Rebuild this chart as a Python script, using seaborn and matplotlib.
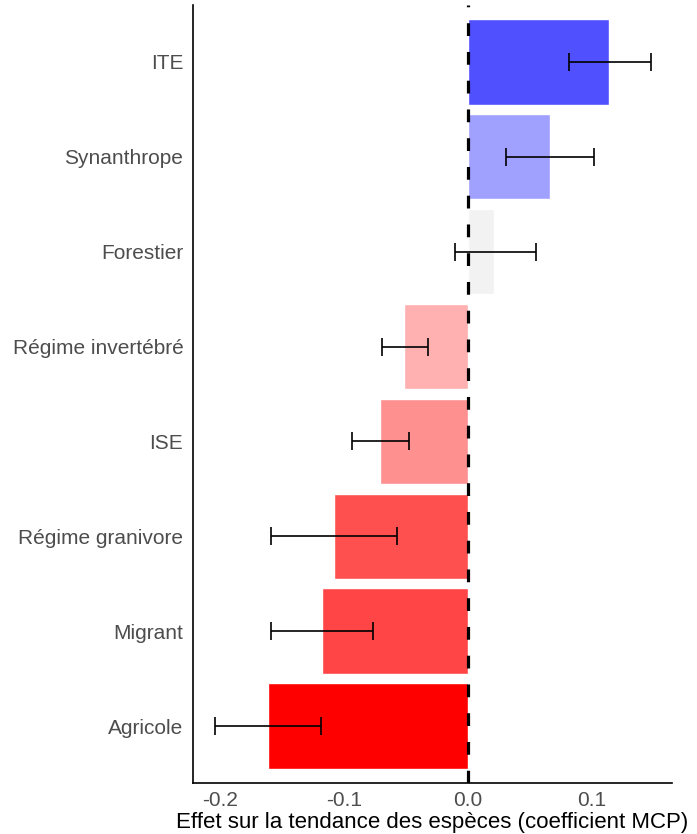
import matplotlib
matplotlib.use("Agg")
import matplotlib.pyplot as plt
import pandas as pd
import seaborn as sns

# Data
categories = ['ITE', 'Synanthrope', 'Forestier', 'Régime invertébré',
              'ISE', 'Régime granivore', 'Migrant', 'Agricole']
effect = [0.1137, 0.066, 0.021, -0.0516, -0.071, -0.108, -0.118, -0.161]
ci_low = [0.0815, 0.031, -0.0105, -0.069, -0.0935, -0.159, -0.159, -0.204]
ci_high = [0.1476, 0.1016, 0.0548, -0.032, -0.0476, -0.057, -0.0766, -0.1185]
colors = ['#5050FF', '#A0A0FF', '#F2F2F2', '#FFB0B0',
          '#FF9090', '#FF5050', '#FF4545', '#FF0000']
xticks = [-0.2, -0.1, 0.0, 0.1]

df = pd.DataFrame({'categorie': categories, 'effet': effect})

sns.set_theme(style='white')
plt.rcParams['font.family'] = ['Liberation Sans', 'DejaVu Sans']

fig = plt.figure(figsize=(6.97, 8.34), dpi=100)
ax = fig.add_axes([0.277, 0.0612, 0.687, 0.9328])

sns.barplot(data=df, x='effet', y='categorie', hue='categorie', palette=colors,
            legend=False, width=0.9, saturation=1, orient='h', ax=ax)

# dashed reference line at zero, drawn over the bars
ax.axvline(0, color='black', lw=2.3, ls=(0, (4, 5)), zorder=3)

# confidence intervals
pos = range(len(categories))
err_lo = [e - l for e, l in zip(effect, ci_low)]
err_hi = [h - e for e, h in zip(effect, ci_high)]
ax.errorbar(effect, list(pos), xerr=[err_lo, err_hi], fmt='none',
            ecolor='black', elinewidth=1.2, capsize=6.5, capthick=1.2, zorder=4)

ax.set_xlim(-0.2218, 0.1645)
ax.set_ylim(7.6, -0.6)
ax.set_xticks(xticks)
ax.set_xticklabels([f'{t:.1f}' for t in xticks])
ax.set_xlabel('Effet sur la tendance des espèces (coefficient MCP)',
              fontsize=16, color='black', labelpad=1)
ax.set_ylabel('')
ax.tick_params(axis='both', length=0, labelsize=15, labelcolor='#4D4D4D')
ax.tick_params(axis='y', pad=7)
ax.tick_params(axis='x', pad=6)

for side in ['top', 'right']:
    ax.spines[side].set_visible(False)
for side in ['left', 'bottom']:
    ax.spines[side].set_color('black')
    ax.spines[side].set_linewidth(1.2)

fig.savefig('out.png', dpi=100)
